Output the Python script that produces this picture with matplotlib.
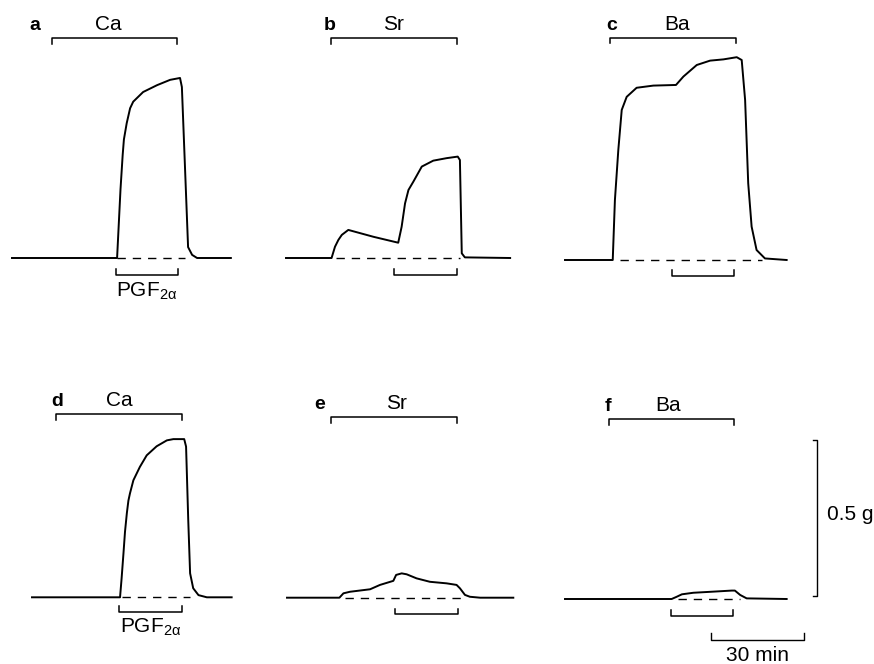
import matplotlib
matplotlib.use("Agg")
import matplotlib.pyplot as plt

plt.rcParams['font.family'] = ['Liberation Sans', 'DejaVu Sans']
plt.rcParams['mathtext.fontset'] = 'custom'
plt.rcParams['mathtext.rm'] = 'Liberation Sans'
plt.rcParams['mathtext.it'] = 'Liberation Sans:italic'

# ---------------- data (time in min, force in g above baseline) ----------------
panel_letters = ['a', 'b', 'c', 'd', 'e', 'f']
ions = ['Ca', 'Sr', 'Ba', 'Ca', 'Sr', 'Ba']

t_a = [0, 33.9, 34.4, 35.0, 35.7, 36.1, 37.0, 38.1, 39.1, 42.3, 46.8, 51.0, 54.2, 54.8, 56.8,
       58.1, 59.7, 70.6]
f_a = [0, 0, 0.100, 0.220, 0.330, 0.380, 0.432, 0.480, 0.501, 0.532, 0.554, 0.571, 0.577, 0.548,
       0.035, 0.010, 0, 0]

t_b = [0, 14.7, 15.8, 16.9, 18.0, 20.1, 28.2, 36.2, 37.3, 38.4, 39.5, 41.1, 43.8, 47.5, 51.8, 55.4,
       56.1, 56.7, 57.7, 72.3]
f_b = [0, 0, 0.036, 0.058, 0.074, 0.090, 0.068, 0.049, 0.100, 0.175, 0.218, 0.245, 0.293, 0.312,
       0.320, 0.325, 0.314, 0.015, 0.002, 0]

t_c = [0, 15.4, 16.1, 17.2, 18.3, 19.9, 23.1, 28.5, 35.8, 38.2, 42.5, 46.8, 51.1, 55.4, 57.0,
       58.1, 59.1, 60.2, 61.8, 64.5, 71.5]
f_c = [0, 0, 0.192, 0.353, 0.481, 0.523, 0.552, 0.559, 0.561, 0.588, 0.625, 0.639, 0.643, 0.650,
       0.641, 0.513, 0.246, 0.107, 0.032, 0.005, 0]

t_d = [0, 28.4, 28.9, 29.5, 30.0, 30.6, 31.1, 31.6, 32.7, 34.8, 37.0, 40.2, 43.5, 45.6, 49.1,
       49.7, 50.4, 51.0, 52.0, 53.7, 56.4, 64.4]
f_d = [0, 0, 0.060, 0.140, 0.210, 0.270, 0.310, 0.333, 0.375, 0.418, 0.455, 0.484, 0.503, 0.507,
       0.507, 0.483, 0.248, 0.077, 0.029, 0.007, 0, 0]

t_e = [0, 16.9, 18.2, 20.3, 26.8, 30.0, 34.3, 35.2, 37.0, 38.6, 41.8, 46.1, 51.5, 54.7, 55.8,
       57.4, 59.0, 62.3, 73.0]
f_e = [0, 0, 0.014, 0.019, 0.027, 0.041, 0.054, 0.073, 0.078, 0.075, 0.062, 0.051, 0.046, 0.041,
       0.030, 0.009, 0.003, 0, 0]

t_f = [0, 34.4, 36.0, 37.7, 41.4, 46.8, 53.8, 54.8, 56.5, 58.6, 71.5]
f_f = [0, 0, 0.007, 0.015, 0.020, 0.023, 0.027, 0.027, 0.013, 0.002, 0]

times = [t_a, t_b, t_c, t_d, t_e, t_f]
forces = [f_a, f_b, f_c, f_d, f_e, f_f]

ion_on = [12.9, 14.5, 14.5, 7.7, 14.2, 14.2]
ion_off = [53.2, 55.2, 55.2, 48.4, 54.8, 54.5]
pgf_on = [33.5, 34.8, 34.5, 28.1, 34.8, 34.2]
pgf_off = [53.5, 55.2, 54.5, 48.4, 55.2, 54.2]
dash_on = [33.9, 16.1, 17.7, 29.0, 18.7, 36.5]
dash_off = [55.8, 56.1, 63.5, 51.0, 57.4, 56.5]

scale_force_g = 0.5
scale_time_min = 30

# ---------------- layout ----------------
FIG_W, FIG_H = 874, 664
PX_PER_MIN = 3.1
PX_PER_G = 312.0
origins = [(12, 258), (286, 258), (565, 260), (32, 597.3), (287, 597.7), (565, 599)]
bar_level = [0.705, 0.705, 0.712, 0.587, 0.578, 0.577]
pgf_level = [-0.054, -0.054, -0.051, -0.046, -0.053, -0.054]
letter_x = [7.3, 14.2, 15.2, 8.1, 10.6, 14.0]
ion_x = [31.1, 34.8, 36.0, 28.1, 35.2, 33.4]
pgf_text_panels = {0: -0.124, 3: -0.115}

LW_TRACE = 1.4
LW_BAR = 1.1
TICK = 0.018

fig = plt.figure(figsize=(FIG_W / 100, FIG_H / 100), dpi=100)
fig.patch.set_facecolor('white')

PAD_L, PAD_R, PAD_T, PAD_B = 30, 300, 250, 75

for i in range(6):
    x0, base = origins[i]
    left = (x0 - PAD_L) / FIG_W
    bottom = 1 - (base + PAD_B) / FIG_H
    width = (PAD_L + PAD_R) / FIG_W
    height = (PAD_T + PAD_B) / FIG_H
    ax = fig.add_axes([left, bottom, width, height])
    ax.set_xlim(-PAD_L / PX_PER_MIN, PAD_R / PX_PER_MIN)
    ax.set_ylim(-PAD_B / PX_PER_G, PAD_T / PX_PER_G)
    ax.axis('off')
    ax.patch.set_alpha(0)

    # trace
    ax.plot(times[i], forces[i], color='black', lw=LW_TRACE, solid_joinstyle='round',
            clip_on=False)
    # dashed baseline
    ax.plot([dash_on[i], dash_off[i]], [0, 0], color='black', lw=1.0,
            linestyle=(0, (6, 5)), clip_on=False)
    # ion bar
    bl = bar_level[i]
    ax.plot([ion_on[i], ion_on[i], ion_off[i], ion_off[i]],
            [bl - TICK, bl, bl, bl - TICK], color='black', lw=LW_BAR, clip_on=False)
    # PGF bracket
    pl = pgf_level[i]
    ax.plot([pgf_on[i], pgf_on[i], pgf_off[i], pgf_off[i]],
            [pl + TICK, pl, pl, pl + TICK], color='black', lw=LW_BAR, clip_on=False)
    # labels
    ax.text(letter_x[i], bl + 0.026, panel_letters[i], fontsize=14, fontweight='bold',
            ha='center', va='baseline')
    ax.text(ion_x[i], bl + 0.026, ions[i], fontsize=15, ha='center', va='baseline')
    if i in pgf_text_panels:
        ax.text((pgf_on[i] + pgf_off[i]) / 2, pgf_text_panels[i], r'PGF$_{\mathrm{2α}}$',
                fontsize=15, ha='center', va='baseline')

    if i == 5:
        # vertical force scale
        sx = 81.3
        y0, y1 = 0.01, 0.01 + scale_force_g
        ax.plot([sx - 1.3, sx, sx, sx - 1.3], [y0, y0, y1, y1], color='black', lw=1.0,
                clip_on=False)
        ax.text(sx + 3.2, (y0 + y1) / 2 + 0.01, f'{scale_force_g} g', fontsize=15,
                ha='left', va='center')
        # horizontal time scale
        tx0 = 47.1
        ty = -0.131
        ax.plot([tx0, tx0, tx0 + scale_time_min, tx0 + scale_time_min],
                [ty + 0.022, ty, ty, ty + 0.022], color='black', lw=1.0, clip_on=False)
        ax.text(tx0 + scale_time_min / 2, -0.200, f'{scale_time_min} min', fontsize=15,
                ha='center', va='baseline')

fig.savefig('out.png', dpi=100, facecolor='white')
